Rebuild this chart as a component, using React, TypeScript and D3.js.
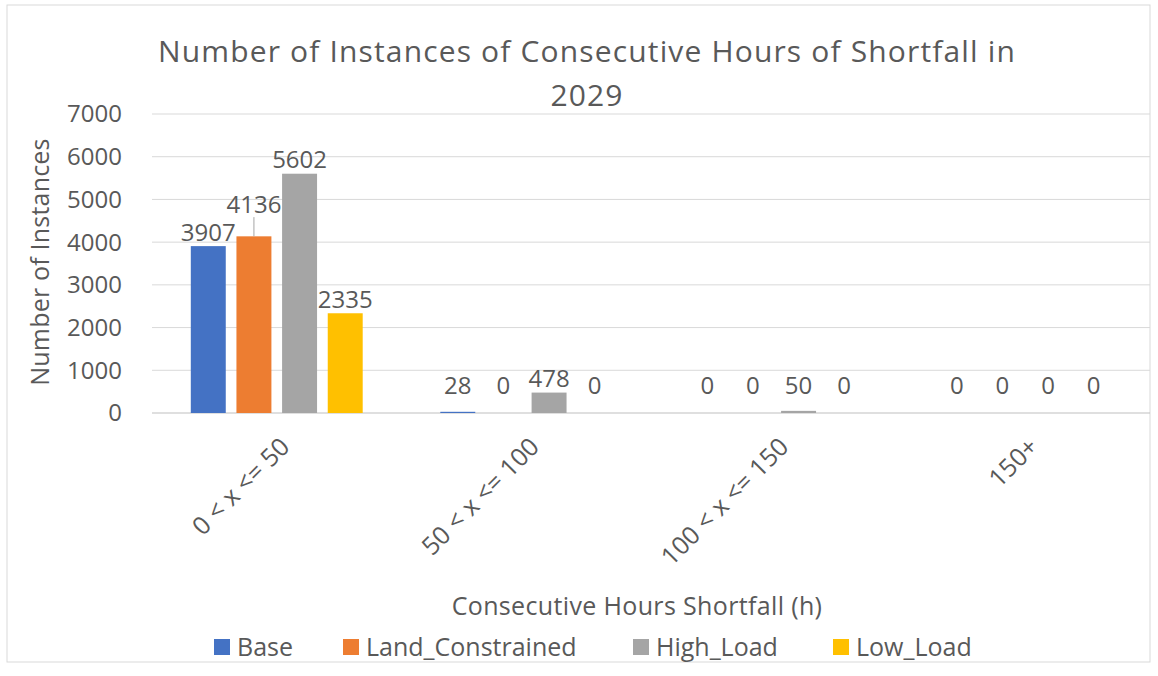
import React from 'react';
import * as d3 from 'd3';

const WIDTH = 1158;
const HEIGHT = 676;

const MARGIN = { top: 114, right: 8, bottom: 263, left: 152 };

const TITLE = ['Number of Instances of Consecutive Hours of Shortfall in', '2029'];
const Y_TITLE = 'Number of Instances';
const X_TITLE = 'Consecutive Hours Shortfall (h)';

const categories = ['0 < x <= 50', '50 < x <= 100', '100 < x <= 150', '150+'];
const seriesNames = ['Base', 'Land_Constrained', 'High_Load', 'Low_Load'];
const colors = ['#4472C4', '#ED7D31', '#A5A5A5', '#FFC000'];

const base = [3907, 28, 0, 0];
const landConstrained = [4136, 0, 0, 0];
const highLoad = [5602, 478, 50, 0];
const lowLoad = [2335, 0, 0, 0];

const yTicks = [0, 1000, 2000, 3000, 4000, 5000, 6000, 7000];

const FONT = '"Open Sans", Lato, sans-serif';
const TEXT = '#595959';

export default function App() {
  const values = [base, landConstrained, highLoad, lowLoad];

  const x0 = d3.scaleBand()
    .domain(categories)
    .range([MARGIN.left, WIDTH - MARGIN.right]);

  const x1 = d3.scaleBand()
    .domain(seriesNames)
    .range([0, x0.bandwidth()])
    .paddingInner(0.234)
    .paddingOuter(0.85);

  const y = d3.scaleLinear()
    .domain([0, 7000])
    .range([HEIGHT - MARGIN.bottom, MARGIN.top]);

  // data labels, lifted when they collide with the previous one
  const labels = [];
  categories.forEach((c, ci) => {
    let prev = null;
    seriesNames.forEach((s, si) => {
      const v = values[si][ci];
      const cx = x0(c) + x1(s) + x1.bandwidth() / 2;
      const top = y(v);
      const h = y(0) - top;
      let cy = top - Math.max(14, 27 - h);
      let leader = false;
      if (prev && Math.abs(prev.cy - cy) < 22 && v > 1000) {
        cy = prev.cy - 28;
        leader = true;
      }
      const l = { cx, cy, top, v, leader };
      labels.push(l);
      prev = l;
    });
  });

  const legendX = [214, 343, 633, 833];

  return (
    <svg width={WIDTH} height={HEIGHT} style={{ position: 'absolute', left: 0, top: 0, background: '#fff' }}
      fontFamily={FONT}>
      <rect x={7} y={5} width={1143} height={657} fill="#fff" stroke="#d9d9d9" strokeWidth={1} />

      {TITLE.map((t, i) => (
        <text key={i} x={587} y={62 + i * 44} textAnchor="middle" fontSize={30} letterSpacing={1.15}
          fill={TEXT}>{t}</text>
      ))}

      <g>
        {yTicks.map(t => (
          <g key={t}>
            <line x1={MARGIN.left} x2={WIDTH - MARGIN.right} y1={y(t)} y2={y(t)}
              stroke={t === 0 ? '#bfbfbf' : '#d9d9d9'} strokeWidth={1} />
            <text x={122} y={y(t)} dy="0.35em" textAnchor="end" fontSize={24} fill={TEXT}>{t}</text>
          </g>
        ))}
      </g>

      {categories.map((c, ci) => (
        <g key={c}>
          {seriesNames.map((s, si) => {
            const v = values[si][ci];
            return (
              <rect key={s} x={x0(c) + x1(s)} y={y(v)} width={x1.bandwidth()} height={y(0) - y(v)}
                fill={colors[si]} />
            );
          })}
        </g>
      ))}

      {labels.map((l, i) => (
        <g key={i}>
          {l.leader && (
            <line x1={l.cx} x2={l.cx} y1={l.cy + 13} y2={l.top} stroke="#a6a6a6" strokeWidth={1} />
          )}
          <text x={l.cx} y={l.cy} dy="0.35em" textAnchor="middle" fontSize={24} fill={TEXT}>{l.v}</text>
        </g>
      ))}

      {categories.map(c => {
        const cx = x0(c) + x0.bandwidth() / 2 + 2;
        return (
          <text key={c} transform={`translate(${cx},${436}) rotate(-45)`} textAnchor="end"
            dy="0.7em" fontSize={25} fill={TEXT}>{c}</text>
        );
      })}

      <text transform={`translate(40,${262}) rotate(-90)`} textAnchor="middle" dy="0.35em"
        fontSize={25} letterSpacing={0.2} fill={TEXT}>{Y_TITLE}</text>

      <text x={637} y={606} textAnchor="middle" dy="0.35em" fontSize={25} letterSpacing={0.35}
        fill={TEXT}>{X_TITLE}</text>

      {seriesNames.map((s, i) => (
        <g key={s} transform={`translate(${legendX[i]},${647})`}>
          <rect x={0} y={-8} width={16} height={16} fill={colors[i]} />
          <text x={23} y={0} dy="0.35em" fontSize={25} fill={TEXT}>{s}</text>
        </g>
      ))}
    </svg>
  );
}
